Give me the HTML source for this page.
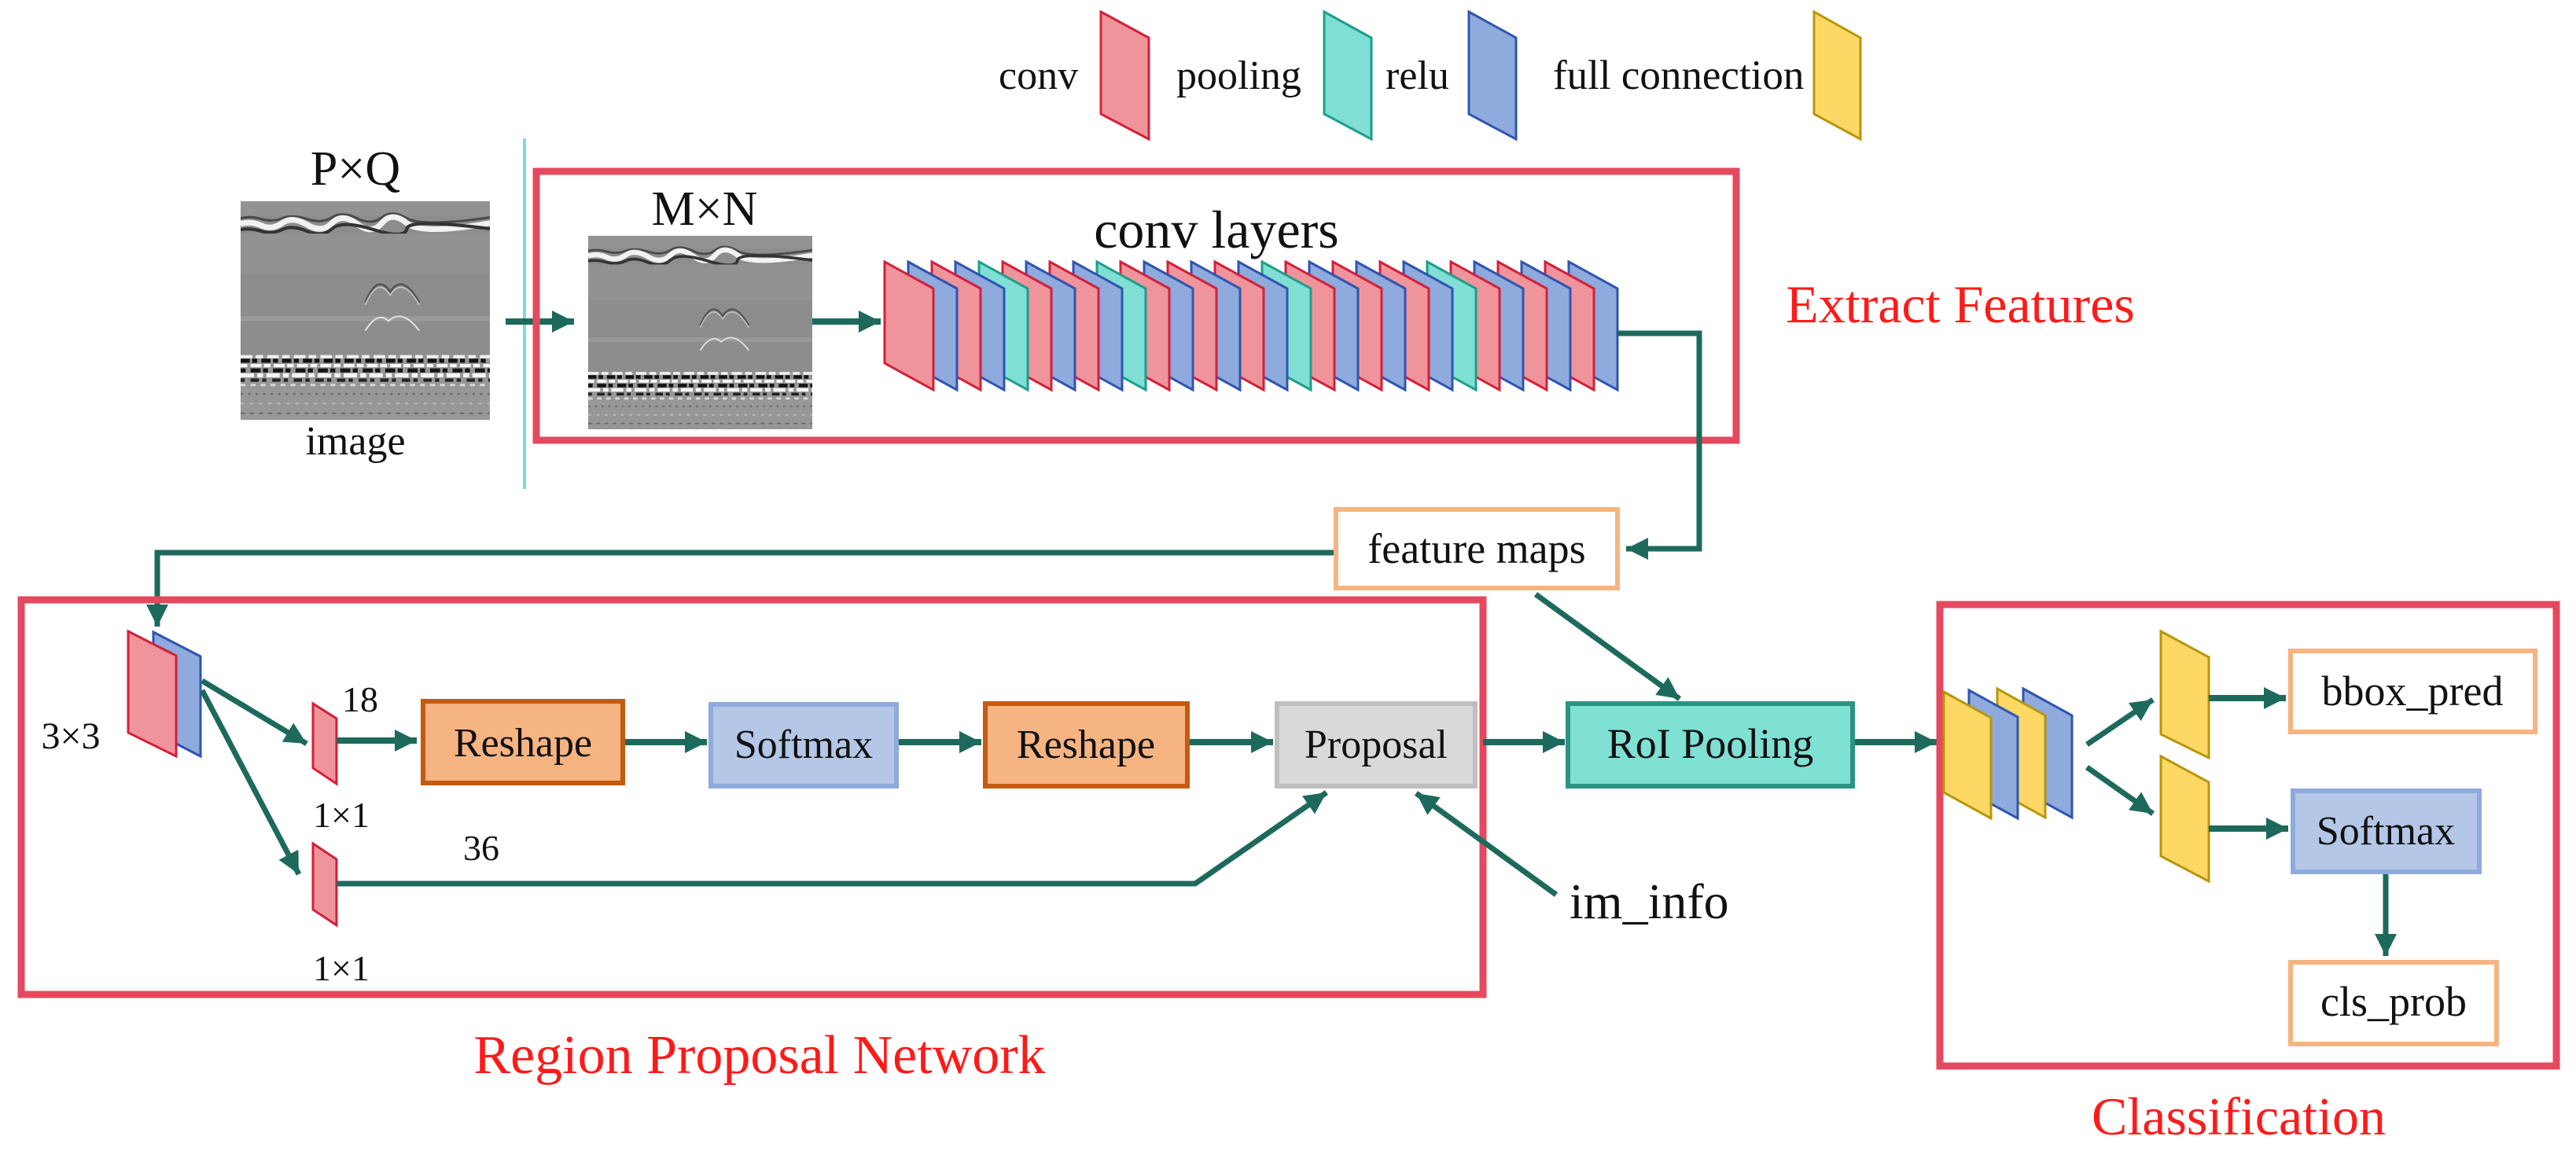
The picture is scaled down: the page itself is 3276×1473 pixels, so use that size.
<!DOCTYPE html>
<html><head><meta charset="utf-8"><style>
html,body{margin:0;padding:0;background:#fff;}
svg{display:block;}
text{font-family:"Liberation Serif",serif;fill:#111;}
</style></head><body>
<svg width="3276" height="1473" viewBox="0 0 3276 1473" xmlns="http://www.w3.org/2000/svg">
<defs>
<marker id="ah" viewBox="0 0 10 10" refX="10" refY="5" markerUnits="userSpaceOnUse" markerWidth="28" markerHeight="36" orient="auto"><path d="M0,0 L10,5 L0,10 z" fill="#1d6a5c"/></marker>
<polygon id="L" points="0,0 62,34 62,163 0,129" stroke-width="3"/>
<symbol id="gpr" viewBox="0 0 300 270" preserveAspectRatio="none">
<rect x="0" y="0" width="300" height="270" fill="#8d8d8d"/>
<rect x="0" y="0" width="300" height="18" fill="#939393"/>
<path d="M0,21 Q12,18 25,22 T50,21 T80,22 T110,20 T140,21 T170,20 T200,21 T300,20" stroke="#4a4a4a" stroke-width="3" fill="none"/>
<path d="M0,28 Q12,24 25,30 T50,27 T80,29 T110,27 T140,28 T170,27 T200,27 T300,27" stroke="#f2f2f2" stroke-width="7" fill="none"/>
<path d="M0,35 Q12,33 25,37 T50,35 T80,37 T110,34 T160,35 T200,34 T300,34" stroke="#333" stroke-width="4" fill="none"/>
<rect x="0" y="40" width="300" height="50" fill="#929292"/>
<rect x="0" y="142" width="300" height="6" fill="#9a9a9a"/>
<path d="M150,125 Q165,88 180,112 Q195,88 215,125" stroke="#555" stroke-width="2.5" fill="none"/>
<path d="M150,128 Q165,92 180,116 Q195,92 215,128" stroke="#c8c8c8" stroke-width="1.5" fill="none"/>
<path d="M150,160 Q165,135 178,148 Q195,132 215,160" stroke="#e0e0e0" stroke-width="2" fill="none"/>
<rect x="0" y="190" width="300" height="80" fill="#979797"/>
<line x1="0" y1="192" x2="300" y2="192" stroke="#f0f0f0" stroke-width="4" stroke-dasharray="14 4 9 5"/>
<line x1="0" y1="197" x2="300" y2="197" stroke="#111" stroke-width="5" stroke-dasharray="11 3 6 5"/>
<line x1="0" y1="203" x2="300" y2="203" stroke="#fafafa" stroke-width="4" stroke-dasharray="8 4 13 3"/>
<line x1="0" y1="209" x2="300" y2="209" stroke="#151515" stroke-width="5" stroke-dasharray="6 6 12 3"/>
<line x1="0" y1="215" x2="300" y2="215" stroke="#f5f5f5" stroke-width="5" stroke-dasharray="16 4 7 4"/>
<line x1="0" y1="221" x2="300" y2="221" stroke="#222" stroke-width="4" stroke-dasharray="5 7 10 4"/>
<line x1="0" y1="227" x2="300" y2="227" stroke="#d8d8d8" stroke-width="3" stroke-dasharray="6 6"/>
<line x1="0" y1="238" x2="300" y2="238" stroke="#6a6a6a" stroke-width="2" stroke-dasharray="3 6"/>
<line x1="0" y1="250" x2="300" y2="250" stroke="#b8b8b8" stroke-width="2" stroke-dasharray="4 7"/>
<line x1="0" y1="262" x2="300" y2="262" stroke="#6a6a6a" stroke-width="2" stroke-dasharray="5 6"/>
</symbol>
</defs>

<!-- Legend -->
<text x="1270" y="113" font-size="52">conv</text>
<polygon points="1400,15 1461,48 1461,177 1400,145" fill="#f0949c" stroke="#d4203a" stroke-width="3"/>
<text x="1496" y="113" font-size="52">pooling</text>
<polygon points="1684,15 1744,48 1744,177 1684,145" fill="#7fdfd4" stroke="#1e9e8a" stroke-width="3"/>
<text x="1762" y="113" font-size="52">relu</text>
<polygon points="1868,15 1928,48 1928,177 1868,145" fill="#8faadc" stroke="#2f55b0" stroke-width="3"/>
<text x="1975" y="113" font-size="53">full connection</text>
<polygon points="2307,15 2366,48 2366,177 2307,145" fill="#fdd865" stroke="#b8960a" stroke-width="3"/>

<!-- Input image -->
<text x="452" y="235" font-size="62" text-anchor="middle">P×Q</text>
<use href="#gpr" x="306" y="256" width="317" height="278"/>
<text x="452" y="578" font-size="52" text-anchor="middle">image</text>
<line x1="667" y1="176" x2="667" y2="622" stroke="#7fdcd4" stroke-width="4"/>
<line x1="643" y1="409" x2="730" y2="409" stroke="#1d6a5c" stroke-width="8" marker-end="url(#ah)"/>

<!-- Extract features box -->
<rect x="682" y="218" width="1526" height="342" fill="none" stroke="#e5495f" stroke-width="9"/>
<text x="896" y="286" font-size="62" text-anchor="middle">M×N</text>
<use href="#gpr" x="748" y="300" width="285" height="246"/>
<line x1="1033" y1="409" x2="1120" y2="409" stroke="#1d6a5c" stroke-width="8" marker-end="url(#ah)"/>
<text x="1547" y="315" font-size="68" text-anchor="middle">conv layers</text>

<g transform="translate(0,333)">
<use href="#L" x="1995" fill="#8faadc" stroke="#2f55b0"/>
<use href="#L" x="1965" fill="#f0949c" stroke="#d4203a"/>
<use href="#L" x="1935" fill="#8faadc" stroke="#2f55b0"/>
<use href="#L" x="1905" fill="#f0949c" stroke="#d4203a"/>
<use href="#L" x="1875" fill="#8faadc" stroke="#2f55b0"/>
<use href="#L" x="1845" fill="#f0949c" stroke="#d4203a"/>
<use href="#L" x="1815" fill="#7fdfd4" stroke="#1e9e8a"/>
<use href="#L" x="1785" fill="#8faadc" stroke="#2f55b0"/>
<use href="#L" x="1755" fill="#f0949c" stroke="#d4203a"/>
<use href="#L" x="1725" fill="#8faadc" stroke="#2f55b0"/>
<use href="#L" x="1695" fill="#f0949c" stroke="#d4203a"/>
<use href="#L" x="1665" fill="#8faadc" stroke="#2f55b0"/>
<use href="#L" x="1635" fill="#f0949c" stroke="#d4203a"/>
<use href="#L" x="1605" fill="#7fdfd4" stroke="#1e9e8a"/>
<use href="#L" x="1575" fill="#8faadc" stroke="#2f55b0"/>
<use href="#L" x="1545" fill="#f0949c" stroke="#d4203a"/>
<use href="#L" x="1515" fill="#8faadc" stroke="#2f55b0"/>
<use href="#L" x="1485" fill="#f0949c" stroke="#d4203a"/>
<use href="#L" x="1455" fill="#8faadc" stroke="#2f55b0"/>
<use href="#L" x="1425" fill="#f0949c" stroke="#d4203a"/>
<use href="#L" x="1395" fill="#7fdfd4" stroke="#1e9e8a"/>
<use href="#L" x="1365" fill="#8faadc" stroke="#2f55b0"/>
<use href="#L" x="1335" fill="#f0949c" stroke="#d4203a"/>
<use href="#L" x="1305" fill="#8faadc" stroke="#2f55b0"/>
<use href="#L" x="1275" fill="#f0949c" stroke="#d4203a"/>
<use href="#L" x="1245" fill="#7fdfd4" stroke="#1e9e8a"/>
<use href="#L" x="1215" fill="#8faadc" stroke="#2f55b0"/>
<use href="#L" x="1185" fill="#f0949c" stroke="#d4203a"/>
<use href="#L" x="1155" fill="#8faadc" stroke="#2f55b0"/>
<use href="#L" x="1125" fill="#f0949c" stroke="#d4203a"/>
</g>
<text x="2493" y="410" font-size="68" style="fill:#ff1a1a" text-anchor="middle">Extract Features</text>

<!-- feature maps -->
<polyline points="2057,424 2161,424 2161,698 2068,698" fill="none" stroke="#1d6a5c" stroke-width="7" marker-end="url(#ah)"/>
<rect x="1699" y="648" width="358" height="100" fill="#fff" stroke="#f5b482" stroke-width="6"/>
<text x="1878" y="716" font-size="54" text-anchor="middle">feature maps</text>
<polyline points="1696,703 200,703 200,797" fill="none" stroke="#1d6a5c" stroke-width="7" marker-end="url(#ah)"/>

<!-- RPN box -->
<rect x="27" y="763" width="1859" height="502" fill="none" stroke="#e5495f" stroke-width="9"/>
<polygon points="195,804 255,835 255,962 195,931" fill="#8faadc" stroke="#2f55b0" stroke-width="3"/>
<polygon points="163,803 224,834 224,962 163,932" fill="#f0949c" stroke="#d4203a" stroke-width="3"/>
<text x="90" y="952" font-size="48" text-anchor="middle">3×3</text>
<line x1="257" y1="866" x2="390" y2="946" stroke="#1d6a5c" stroke-width="7" marker-end="url(#ah)"/>
<line x1="257" y1="878" x2="380" y2="1112" stroke="#1d6a5c" stroke-width="7" marker-end="url(#ah)"/>
<polygon points="398,895 428,914 428,997 398,977" fill="#f0949c" stroke="#d4203a" stroke-width="3"/>
<polygon points="398,1073 428,1093 428,1177 398,1157" fill="#f0949c" stroke="#d4203a" stroke-width="3"/>
<text x="458" y="905" font-size="46" text-anchor="middle">18</text>
<text x="434" y="1052" font-size="46" text-anchor="middle">1×1</text>
<text x="612" y="1094" font-size="46" text-anchor="middle">36</text>
<text x="434" y="1247" font-size="46" text-anchor="middle">1×1</text>

<line x1="428" y1="942" x2="530" y2="942" stroke="#1d6a5c" stroke-width="8" marker-end="url(#ah)"/>
<rect x="538" y="892" width="254" height="104" fill="#f5b482" stroke="#c55a11" stroke-width="6"/>
<text x="665" y="962" font-size="52" text-anchor="middle">Reshape</text>
<line x1="795" y1="944" x2="899" y2="944" stroke="#1d6a5c" stroke-width="8" marker-end="url(#ah)"/>
<rect x="904" y="896" width="236" height="104" fill="#b4c7e7" stroke="#8faadc" stroke-width="6"/>
<text x="1022" y="964" font-size="52" text-anchor="middle">Softmax</text>
<line x1="1143" y1="944" x2="1248" y2="944" stroke="#1d6a5c" stroke-width="8" marker-end="url(#ah)"/>
<rect x="1253" y="895" width="257" height="105" fill="#f5b482" stroke="#c55a11" stroke-width="6"/>
<text x="1381" y="964" font-size="52" text-anchor="middle">Reshape</text>
<line x1="1513" y1="944" x2="1619" y2="944" stroke="#1d6a5c" stroke-width="8" marker-end="url(#ah)"/>
<rect x="1624" y="895" width="252" height="105" fill="#d9d9d9" stroke="#bfbfbf" stroke-width="6"/>
<text x="1750" y="964" font-size="52" text-anchor="middle">Proposal</text>
<polyline points="428,1124 1520,1124 1687,1008" fill="none" stroke="#1d6a5c" stroke-width="7" marker-end="url(#ah)"/>
<line x1="1979" y1="1138" x2="1801" y2="1009" stroke="#1d6a5c" stroke-width="7" marker-end="url(#ah)"/>
<text x="1996" y="1168" font-size="64">im_info</text>
<text x="966" y="1365" font-size="70" style="fill:#ff1a1a" text-anchor="middle">Region Proposal Network</text>

<!-- RoI -->
<line x1="1953" y1="756" x2="2136" y2="889" stroke="#1d6a5c" stroke-width="7" marker-end="url(#ah)"/>
<line x1="1886" y1="944" x2="1990" y2="944" stroke="#1d6a5c" stroke-width="8" marker-end="url(#ah)"/>
<rect x="1994" y="895" width="362" height="105" fill="#7fe0d4" stroke="#2a9384" stroke-width="6"/>
<text x="2175" y="964" font-size="54" text-anchor="middle">RoI Pooling</text>
<line x1="2359" y1="944" x2="2463" y2="944" stroke="#1d6a5c" stroke-width="8" marker-end="url(#ah)"/>

<!-- Classification -->
<rect x="2467" y="769" width="784" height="587" fill="none" stroke="#e5495f" stroke-width="9"/>
<polygon points="2573,876 2635,910 2635,1040 2573,1006" fill="#8faadc" stroke="#2f55b0" stroke-width="3"/>
<polygon points="2540,876 2601,910 2601,1040 2540,1006" fill="#fdd865" stroke="#b8960a" stroke-width="3"/>
<polygon points="2504,878 2566,912 2566,1041 2504,1007" fill="#8faadc" stroke="#2f55b0" stroke-width="3"/>
<polygon points="2472,880 2532,913 2532,1041 2472,1008" fill="#fdd865" stroke="#b8960a" stroke-width="3"/>
<line x1="2654" y1="947" x2="2738" y2="890" stroke="#1d6a5c" stroke-width="7" marker-end="url(#ah)"/>
<line x1="2654" y1="976" x2="2738" y2="1035" stroke="#1d6a5c" stroke-width="7" marker-end="url(#ah)"/>
<polygon points="2748,803 2809,836 2809,964 2748,934" fill="#fdd865" stroke="#b8960a" stroke-width="3"/>
<polygon points="2748,962 2809,995 2809,1121 2748,1089" fill="#fdd865" stroke="#b8960a" stroke-width="3"/>
<line x1="2809" y1="888" x2="2907" y2="888" stroke="#1d6a5c" stroke-width="8" marker-end="url(#ah)"/>
<rect x="2913" y="828" width="311" height="103" fill="#fff" stroke="#f5b482" stroke-width="6"/>
<text x="3068" y="897" font-size="54" text-anchor="middle">bbox_pred</text>
<line x1="2809" y1="1054" x2="2910" y2="1054" stroke="#1d6a5c" stroke-width="8" marker-end="url(#ah)"/>
<rect x="2916" y="1006" width="237" height="103" fill="#b4c7e7" stroke="#8faadc" stroke-width="6"/>
<text x="3034" y="1074" font-size="52" text-anchor="middle">Softmax</text>
<line x1="3034" y1="1112" x2="3034" y2="1216" stroke="#1d6a5c" stroke-width="7" marker-end="url(#ah)"/>
<rect x="2913" y="1224" width="262" height="104" fill="#fff" stroke="#f5b482" stroke-width="6"/>
<text x="3044" y="1292" font-size="54" text-anchor="middle">cls_prob</text>
<text x="2847" y="1443" font-size="68" style="fill:#ff1a1a" text-anchor="middle">Classification</text>
</svg>
</body></html>
